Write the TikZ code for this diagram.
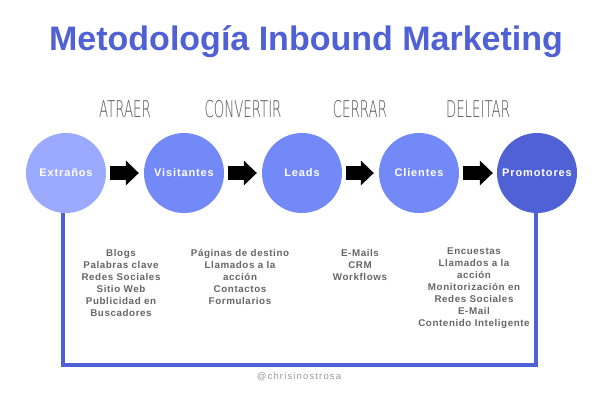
\documentclass[tikz,border=0pt]{standalone}
\usepackage{fontspec}
\setmainfont{Liberation Sans}
\newfontfamily\titlefont{Liberation Sans}[LetterSpace=0]
\newfontfamily\circfont{Liberation Sans}[LetterSpace=8]
\newfontfamily\bodyfont{Liberation Sans}[LetterSpace=6]
\newfontfamily\markfont{Liberation Sans}[LetterSpace=12]
\newfontfamily\handfont{DejaVu Sans ExtraLight}[FakeStretch=0.58]
\usetikzlibrary{arrows.meta,backgrounds}
\definecolor{light}{HTML}{9BA9FF}
\definecolor{mid}{HTML}{7389F7}
\definecolor{dark}{HTML}{4F61D5}
\definecolor{txtgray}{HTML}{666666}
\definecolor{handgray}{HTML}{555555}
\definecolor{markgray}{HTML}{999999}
\tikzset{
  stage/.style={circle, minimum size=80pt, inner sep=0pt, text=white,
    font=\circfont\bfseries\fontsize{11}{13}\selectfont},
  phase/.style={text=handgray, inner sep=0pt, font=\handfont\fontsize{23}{26}\selectfont},
  blockarrow/.style={line width=14pt, draw=black,
    -{Triangle[width=25pt,length=13pt,line width=0pt]}},
  frame/.style={draw=dark, line width=4.5pt},
  items/.style={text=txtgray, align=center, anchor=north, inner sep=0pt,
    font=\bodyfont\bfseries\fontsize{9.8}{12}\selectfont},
}
\begin{document}
\begin{tikzpicture}[x=1pt,y=-1pt]
\useasboundingbox (0,0) rectangle (600,400);
\node[text=dark, inner sep=0pt, anchor=base, font=\titlefont\bfseries\fontsize{34}{40}\selectfont] (title) at (306,50) {Metodología Inbound Marketing};

\node[stage, fill=light] (ext) at (66,173) {Extraños};
\node[stage, fill=mid] (vis) at (184,173) {Visitantes};
\node[stage, fill=mid] (lea) at (302,173) {Leads};
\node[stage, fill=mid] (cli) at (419,173) {Clientes};
\node[stage, fill=dark] (pro) at (537,173) {Promotores};

\node[phase, anchor=base] (p1) at (125,117) {ATRAER};
\node[phase, anchor=base] (p2) at (243,117) {CONVERTIR};
\node[phase, anchor=base] (p3) at (360,117) {CERRAR};
\node[phase, anchor=base] (p4) at (478,117) {DELEITAR};

\draw[blockarrow] ([xshift=4pt]ext.east) -- ([xshift=-5pt]vis.west);
\draw[blockarrow] ([xshift=4pt]vis.east) -- ([xshift=-5pt]lea.west);
\draw[blockarrow] ([xshift=4pt]lea.east) -- ([xshift=-5pt]cli.west);
\draw[blockarrow] ([xshift=4pt]cli.east) -- ([xshift=-4pt]pro.west);

\coordinate (fl) at (63,365);
\coordinate (fr) at (536,365);
\begin{scope}[on background layer]
\fill[white] (0,0) rectangle (600,400);
\draw[frame] ([xshift=-3pt,yshift=5pt]ext.south) -- (fl) -- (fr) -- ([xshift=-1pt,yshift=5pt]pro.south);
\end{scope}

\node[items] (i1) at (121,249.5) {Blogs\\Palabras clave\\Redes Sociales\\Sitio Web\\Publicidad en\\Buscadores};
\node[items] (i2) at (240,249.5) {Páginas de destino\\Llamados a la\\acción\\Contactos\\Formularios};
\node[items] (i3) at (360,249.5) {E-Mails\\CRM\\Workflows};
\node[items] (i4) at (474,247.5) {Encuestas\\Llamados a la\\acción\\Monitorización en\\Redes Sociales\\E-Mail\\Contenido Inteligente};

\node[text=markgray, inner sep=0pt, font=\markfont\fontsize{9.5}{11}\selectfont] (mark) at (299,377) {@chrisinostrosa};
\end{tikzpicture}
\end{document}
